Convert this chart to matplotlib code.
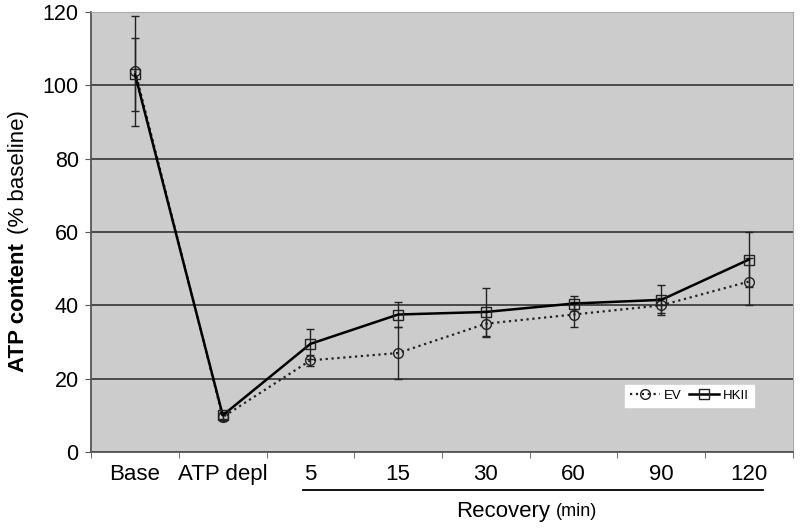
import numpy as np
import matplotlib.pyplot as plt
from matplotlib.lines import Line2D

plt.rcParams['font.family'] = ['Liberation Sans', 'DejaVu Sans']

# categories and values
cats = ['Base', 'ATP depl', '5', '15', '30', '60', '90', '120']
ev = [104, 9.5, 25, 27, 35, 37.5, 40, 46.5]
ev_err = [15, 1, 1.5, 7, 3.5, 3.5, 2, 6.5]
hk = [103, 10, 29.5, 37.5, 38.2, 40.5, 41.5, 52.5]
hk_err = [10, 1, 4, 3.5, 6.5, 2, 4, 7.5]

x = np.arange(len(cats))

fig = plt.figure(figsize=(8, 5.28), dpi=100)
ax = fig.add_axes([0.114, 0.144, 0.877, 0.833])
ax.set_facecolor('#cccccc')

ev_style = dict(color='#222222', ls=':', lw=1.6, marker='o', ms=7,
                mfc='none', mec='#222222', mew=1)
hk_style = dict(color='black', ls='-', lw=1.8, marker='s', ms=6.5,
                mfc='none', mec='#222222', mew=1)

ax.errorbar(x, ev, yerr=ev_err, capsize=3, elinewidth=1, ecolor='#222222',
            zorder=3, **ev_style)
ax.errorbar(x, hk, yerr=hk_err, capsize=3, elinewidth=1, ecolor='#222222',
            zorder=4, **hk_style)

ax.set_xlim(-0.5, len(cats) - 0.5)
ax.set_ylim(0, 120)
ax.set_yticks(np.arange(0, 121, 20))
ax.yaxis.grid(True, color='#333333', lw=1.2)
ax.set_axisbelow(True)

ax.set_xticks(x)
ax.set_xticklabels(cats, fontsize=16)
ax.set_xticks(np.arange(-0.5, len(cats)), minor=True)
ax.tick_params(axis='x', which='major', length=0, pad=9)
ax.tick_params(axis='x', which='minor', length=4, color='#555555')
ax.tick_params(axis='y', labelsize=15.5, length=4, color='#555555', pad=5)

for s in ['top', 'right']:
    ax.spines[s].set_color('#aaaaaa')
for s in ['left', 'bottom']:
    ax.spines[s].set_color('#555555')
    ax.spines[s].set_linewidth(1.3)

# recovery bracket
fig.add_artist(plt.Line2D([303 / 800, 763 / 800], [1 - 490 / 528, 1 - 490 / 528],
                          color='black', lw=1.3))
fig.text(550 / 800, 1 - 511 / 528, 'Recovery', fontsize=16, ha='right', va='center')
fig.text(556 / 800, 1 - 511 / 528, '(min)', fontsize=13, ha='left', va='center')

# y label: bold part + normal part
fig.text(19 / 800, 1 - 308 / 528, 'ATP content', fontsize=16, fontweight='bold',
         rotation=90, ha='center', va='center')
fig.text(19 / 800, 1 - 172 / 528, '(% baseline)', fontsize=16,
         rotation=90, ha='center', va='center')

handles = [Line2D([], [], **ev_style), Line2D([], [], **hk_style)]
ax.legend(handles, ['EV', 'HKII'], loc='lower left', bbox_to_anchor=(0.752, 0.088),
          ncol=2, fontsize=9.5, frameon=True, fancybox=False, framealpha=1,
          edgecolor='white', handlelength=2.3, columnspacing=0.5,
          handletextpad=0.3, borderpad=0.35)

fig.savefig('out.png', dpi=100)
